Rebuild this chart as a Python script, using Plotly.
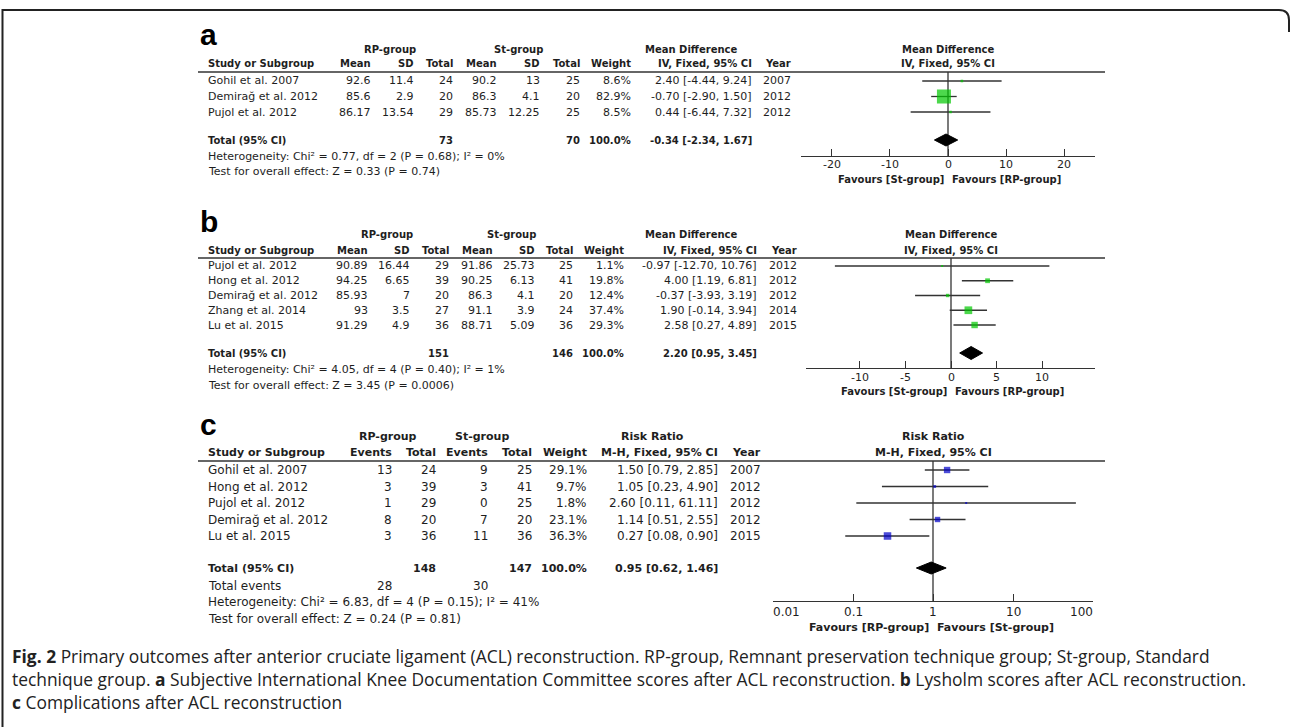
import math
import plotly.graph_objects as go

W, H = 1292, 727
FONT = "DejaVu Sans"
LETTER_FONT = "Liberation Sans"
CAPTION_FONT = "Open Sans"
INK = "#1e1e1e"
LINE = "#333333"
GREEN = "#00c800"
BLUE = "#0000c8"

# ---------------- data: panel a (IKDC scores) ----------------
a_studies = ["Gohil et al. 2007", "Demirağ et al. 2012", "Pujol et al. 2012"]
a_rp_mean = [92.6, 85.6, 86.17]
a_rp_sd = [11.4, 2.9, 13.54]
a_rp_n = [24, 20, 29]
a_st_mean = [90.2, 86.3, 85.73]
a_st_sd = [13, 4.1, 12.25]
a_st_n = [25, 20, 25]
a_weight = [8.6, 82.9, 8.5]
a_est = [2.40, -0.70, 0.44]
a_lo = [-4.44, -2.90, -6.44]
a_hi = [9.24, 1.50, 7.32]
a_year = [2007, 2012, 2012]
a_total_n = [73, 70]
a_total_ci = [-0.34, -2.34, 1.67]
a_het = "Heterogeneity: Chi² = 0.77, df = 2 (P = 0.68); I² = 0%"
a_test = "Test for overall effect: Z = 0.33 (P = 0.74)"
a_ticks = [-20, -10, 0, 10, 20]

# ---------------- data: panel b (Lysholm scores) ----------------
b_studies = ["Pujol et al. 2012", "Hong et al. 2012", "Demirağ et al. 2012", "Zhang et al. 2014", "Lu et al. 2015"]
b_rp_mean = [90.89, 94.25, 85.93, 93, 91.29]
b_rp_sd = [16.44, 6.65, 7, 3.5, 4.9]
b_rp_n = [29, 39, 20, 27, 36]
b_st_mean = [91.86, 90.25, 86.3, 91.1, 88.71]
b_st_sd = [25.73, 6.13, 4.1, 3.9, 5.09]
b_st_n = [25, 41, 20, 24, 36]
b_weight = [1.1, 19.8, 12.4, 37.4, 29.3]
b_est = [-0.97, 4.00, -0.37, 1.90, 2.58]
b_lo = [-12.70, 1.19, -3.93, -0.14, 0.27]
b_hi = [10.76, 6.81, 3.19, 3.94, 4.89]
b_year = [2012, 2012, 2012, 2014, 2015]
b_total_n = [151, 146]
b_total_ci = [2.20, 0.95, 3.45]
b_het = "Heterogeneity: Chi² = 4.05, df = 4 (P = 0.40); I² = 1%"
b_test = "Test for overall effect: Z = 3.45 (P = 0.0006)"
b_ticks = [-10, -5, 0, 5, 10]

# ---------------- data: panel c (complications) ----------------
c_studies = ["Gohil et al. 2007", "Hong et al. 2012", "Pujol et al. 2012", "Demirağ et al. 2012", "Lu et al. 2015"]
c_rp_events = [13, 3, 1, 8, 3]
c_rp_n = [24, 39, 29, 20, 36]
c_st_events = [9, 3, 0, 7, 11]
c_st_n = [25, 41, 25, 20, 36]
c_weight = [29.1, 9.7, 1.8, 23.1, 36.3]
c_est = [1.50, 1.05, 2.60, 1.14, 0.27]
c_lo = [0.79, 0.23, 0.11, 0.51, 0.08]
c_hi = [2.85, 4.90, 61.11, 2.55, 0.90]
c_year = [2007, 2012, 2012, 2012, 2015]
c_total_n = [148, 147]
c_total_events = [28, 30]
c_total_ci = [0.95, 0.62, 1.46]
c_het = "Heterogeneity: Chi² = 6.83, df = 4 (P = 0.15); I² = 41%"
c_test = "Test for overall effect: Z = 0.24 (P = 0.81)"
c_ticks = [0.01, 0.1, 1, 10, 100]

caption_lines = [
    "<b>Fig. 2</b> Primary outcomes after anterior cruciate ligament (ACL) reconstruction. RP-group, Remnant preservation technique group; St-group, Standard",
    "technique group. <b>a</b> Subjective International Knee Documentation Committee scores after ACL reconstruction. <b>b</b> Lysholm scores after ACL reconstruction.",
    "<b>c</b> Complications after ACL reconstruction",
]


def g(v):
    return f"{v:g}"


def ci(e, l, h):
    return f"{e:.2f} [{l:.2f}, {h:.2f}]"


def pct(w):
    return f"{w:.1f}%"


def px(x):
    return x / W


def py(y):
    return 1 - y / H


anns, shapes = [], []


def text(x, y, s, anchor="left", size=11, bold=False, family=FONT, color=INK, xref="paper"):
    anns.append(dict(x=x if xref != "paper" else px(x), y=py(y), xref=xref, yref="paper",
                     text=f"<b>{s}</b>" if bold else s, showarrow=False,
                     xanchor=anchor, yanchor="middle", borderpad=0, borderwidth=0,
                     font=dict(family=family, size=size, color=color)))


def hline(x0, x1, y, width=1.3):
    shapes.append(dict(type="line", xref="paper", yref="paper",
                       x0=px(x0), x1=px(x1), y0=py(y), y1=py(y),
                       line=dict(color=LINE, width=width)))


panels = [
    dict(letter="a", letter_y=34.5, grp_y=50, hdr_y=64, line_y=72, r0=81, dr=15.5,
         tot_y=140, ev_y=None, het_y=156, test_y=172, axis_y=156, tick_dy=8.5, fav_y=179,
         fs=11, fb=10, tfs=11,
         groups=[("RP-group", 390), ("St-group", 518), ("Mean Difference", 691)],
         col_x=[371, 414, 453, 497, 540, 580, 631, 752, 791],
         headers=["Mean", "SD", "Total", "Mean", "SD", "Total", "Weight", "IV, Fixed, 95% CI", "Year"],
         rows=[[g(a), g(b), g(c), g(d), g(e), g(f), pct(w), ci(m, l, h), str(y)]
               for a, b, c, d, e, f, w, m, l, h, y in zip(a_rp_mean, a_rp_sd, a_rp_n, a_st_mean, a_st_sd,
                                                          a_st_n, a_weight, a_est, a_lo, a_hi, a_year)],
         studies=a_studies,
         totals=[(2, str(a_total_n[0])), (5, str(a_total_n[1])), (6, "100.0%"), (7, ci(*a_total_ci))],
         events=None, het=a_het, test=a_test,
         est=a_est, lo=a_lo, hi=a_hi, weight=a_weight, total_ci=a_total_ci,
         plot_title=("Mean Difference", "IV, Fixed, 95% CI"),
         xdom=(801, 1095), xrange=(-25.34, 25.34), xtype="linear", ticks=a_ticks, null=0,
         fav=("Favours [St-group]", "Favours [RP-group]"), dh=6, color=GREEN),
    dict(letter="b", letter_y=221.5, grp_y=234, hdr_y=250, line_y=258, r0=266, dr=14.75,
         tot_y=353, ev_y=None, het_y=369, test_y=385, axis_y=368, tick_dy=9, fav_y=391,
         fs=11, fb=10, tfs=11,
         groups=[("RP-group", 387), ("St-group", 511), ("Mean Difference", 691)],
         col_x=[368, 410, 449, 493, 535, 573, 624, 757, 797],
         headers=["Mean", "SD", "Total", "Mean", "SD", "Total", "Weight", "IV, Fixed, 95% CI", "Year"],
         rows=[[g(a), g(b), g(c), g(d), g(e), g(f), pct(w), ci(m, l, h), str(y)]
               for a, b, c, d, e, f, w, m, l, h, y in zip(b_rp_mean, b_rp_sd, b_rp_n, b_st_mean, b_st_sd,
                                                          b_st_n, b_weight, b_est, b_lo, b_hi, b_year)],
         studies=b_studies,
         totals=[(2, str(b_total_n[0])), (5, str(b_total_n[1])), (6, "100.0%"), (7, ci(*b_total_ci))],
         events=None, het=b_het, test=b_test,
         est=b_est, lo=b_lo, hi=b_hi, weight=b_weight, total_ci=b_total_ci,
         plot_title=("Mean Difference", "IV, Fixed, 95% CI"),
         xdom=(806, 1095), xrange=(-15.86, 15.75), xtype="linear", ticks=b_ticks, null=0,
         fav=("Favours [St-group]", "Favours [RP-group]"), dh=6.5, color=GREEN),
    dict(letter="c", letter_y=424.5, grp_y=436, hdr_y=452, line_y=461, r0=470, dr=16.5,
         tot_y=568, ev_y=586, het_y=602, test_y=619, axis_y=601, tick_dy=11, fav_y=627,
         fs=12, fb=11, tfs=12,
         groups=[("RP-group", 388), ("St-group", 482), ("Risk Ratio", 653)],
         col_x=[392, 436, 488, 532, 587, 718, 761],
         headers=["Events", "Total", "Events", "Total", "Weight", "M-H, Fixed, 95% CI", "Year"],
         rows=[[str(a), str(b), str(c), str(d), pct(w), ci(m, l, h), str(y)]
               for a, b, c, d, w, m, l, h, y in zip(c_rp_events, c_rp_n, c_st_events, c_st_n,
                                                    c_weight, c_est, c_lo, c_hi, c_year)],
         studies=c_studies,
         totals=[(1, str(c_total_n[0])), (3, str(c_total_n[1])), (4, "100.0%"), (5, ci(*c_total_ci))],
         events=[(0, str(c_total_events[0])), (2, str(c_total_events[1]))],
         het=c_het, test=c_test,
         est=c_est, lo=c_lo, hi=c_hi, weight=c_weight, total_ci=c_total_ci,
         plot_title=("Risk Ratio", "M-H, Fixed, 95% CI"),
         xdom=(773, 1093), xrange=(-2, 2), xtype="log", ticks=c_ticks, null=1,
         fav=("Favours [RP-group]", "Favours [St-group]"), dh=6, color=BLUE),
]

fig = go.Figure()
layout_axes = {}

for k, P in enumerate(panels):
    s = "" if k == 0 else str(k + 1)
    xa, ya = "x" + s, "y" + s
    x0, x1 = P["xdom"]
    r0, r1 = P["xrange"]
    is_log = P["xtype"] == "log"

    def to_ax(v):
        return math.log10(v) if is_log else v

    null_px = x0 + (to_ax(P["null"]) - r0) / (r1 - r0) * (x1 - x0)

    # letter
    text(200, P["letter_y"], P["letter"], size=30, bold=True, family=LETTER_FONT, color="#000")
    # group headers
    for lab, cx in P["groups"]:
        text(cx, P["grp_y"], lab, anchor="center", size=P["fb"], bold=True)
    text(null_px, P["grp_y"], P["plot_title"][0], anchor="center", size=P["fb"], bold=True)
    text(null_px, P["hdr_y"], P["plot_title"][1], anchor="center", size=P["fb"], bold=True)
    # column headers
    text(208, P["hdr_y"], "Study or Subgroup", size=P["fb"], bold=True)
    for h, cx in zip(P["headers"], P["col_x"]):
        text(cx, P["hdr_y"], h, anchor="right", size=P["fb"], bold=True)
    hline(198, 1105, P["line_y"])
    # study rows
    for i, (name, row) in enumerate(zip(P["studies"], P["rows"])):
        yy = P["r0"] + i * P["dr"]
        text(208, yy, name, size=P["fs"])
        for val, cx in zip(row, P["col_x"]):
            text(cx, yy, val, anchor="right", size=P["fs"])
    # total row
    text(208, P["tot_y"], "Total (95% CI)", size=P["fb"], bold=True)
    for ci_idx, val in P["totals"]:
        text(P["col_x"][ci_idx], P["tot_y"], val, anchor="right", size=P["fb"], bold=True)
    if P["events"]:
        text(208, P["ev_y"], "Total events", size=P["fs"])
        for ci_idx, val in P["events"]:
            text(P["col_x"][ci_idx], P["ev_y"], val, anchor="right", size=P["fs"])
    text(208, P["het_y"], P["het"], size=P["fs"])
    text(208, P["test_y"], P["test"], size=P["fs"])
    # favours
    text(null_px - 4, P["fav_y"], P["fav"][0], anchor="right", size=P["fb"], bold=True)
    text(null_px + 4, P["fav_y"], P["fav"][1], anchor="left", size=P["fb"], bold=True)
    # tick labels (end labels kept inside the axis, as in RevMan)
    for t in P["ticks"]:
        tv = to_ax(t)
        anc = "left" if abs(tv - r0) < 1e-9 else ("right" if abs(tv - r1) < 1e-9 else "center")
        text(tv, P["axis_y"] + P["tick_dy"], g(t), anchor=anc, size=P["tfs"], xref=xa)

    # ---- plot traces ----
    ys = [P["r0"] + i * P["dr"] for i in range(len(P["est"]))]
    lx, ly = [], []
    for lo, hi, yy in zip(P["lo"], P["hi"], ys):
        lx += [lo, hi, None]
        ly += [yy, yy, None]
    fig.add_trace(go.Scatter(x=[P["null"], P["null"]], y=[P["axis_y"], P["line_y"]], mode="lines",
                             line=dict(color=LINE, width=1.3), xaxis=xa, yaxis=ya,
                             hoverinfo="skip", showlegend=False))
    fig.add_trace(go.Scatter(x=lx, y=ly, mode="lines", line=dict(color=LINE, width=1.3),
                             xaxis=xa, yaxis=ya, hoverinfo="skip", showlegend=False))
    sizes = [max(2.0, 0.51 * w ** 0.75) for w in P["weight"]]
    fig.add_trace(go.Scatter(x=P["est"], y=ys, mode="markers",
                             marker=dict(symbol="square", size=sizes, color=P["color"],
                                         line=dict(width=0)),
                             xaxis=xa, yaxis=ya, hoverinfo="skip", showlegend=False))
    e, l, h = P["total_ci"]
    ty, dh = P["tot_y"], P["dh"]
    fig.add_trace(go.Scatter(x=[l, e, h, e, l], y=[ty, ty - dh, ty, ty + dh, ty], mode="lines",
                             fill="toself", fillcolor="#000", line=dict(color="#000", width=1),
                             xaxis=xa, yaxis=ya, hoverinfo="skip", showlegend=False))

    layout_axes["xaxis" + s] = dict(
        domain=[px(x0), px(x1)], range=[r0, r1], type=P["xtype"], anchor=ya,
        showline=True, linecolor=LINE, linewidth=1.3, ticks="inside", ticklen=7,
        tickwidth=1.3, tickcolor=LINE, tickvals=P["ticks"], showticklabels=False,
        showgrid=False, zeroline=False, fixedrange=True)
    layout_axes["yaxis" + s] = dict(
        domain=[py(P["axis_y"]), py(P["line_y"])], range=[P["axis_y"], P["line_y"]],
        visible=False, fixedrange=True, anchor=xa)

# caption
for j, line in enumerate(caption_lines):
    text(12, 656 + j * 23, line, size=17.4, family=CAPTION_FONT, color="#222")


def pt(x, y):
    return f"{px(x):.5f},{py(y):.5f}"


shapes.append(dict(type="path", xref="paper", yref="paper",
                   path=f"M {pt(2.5, 727)} L {pt(2.5, 10)} L {pt(1279, 10)} Q {pt(1289, 10)} {pt(1289, 20)} L {pt(1289, 32)}",
                   line=dict(color="#222", width=2)))

fig.update_layout(width=W, height=H, margin=dict(l=0, r=0, t=0, b=0), autosize=False,
                  paper_bgcolor="white", plot_bgcolor="rgba(0,0,0,0)",
                  annotations=anns, shapes=shapes, showlegend=False, **layout_axes)

fig.write_html("out.html", config={"displayModeBar": False},
               post_script="document.body.style.margin='0';")
